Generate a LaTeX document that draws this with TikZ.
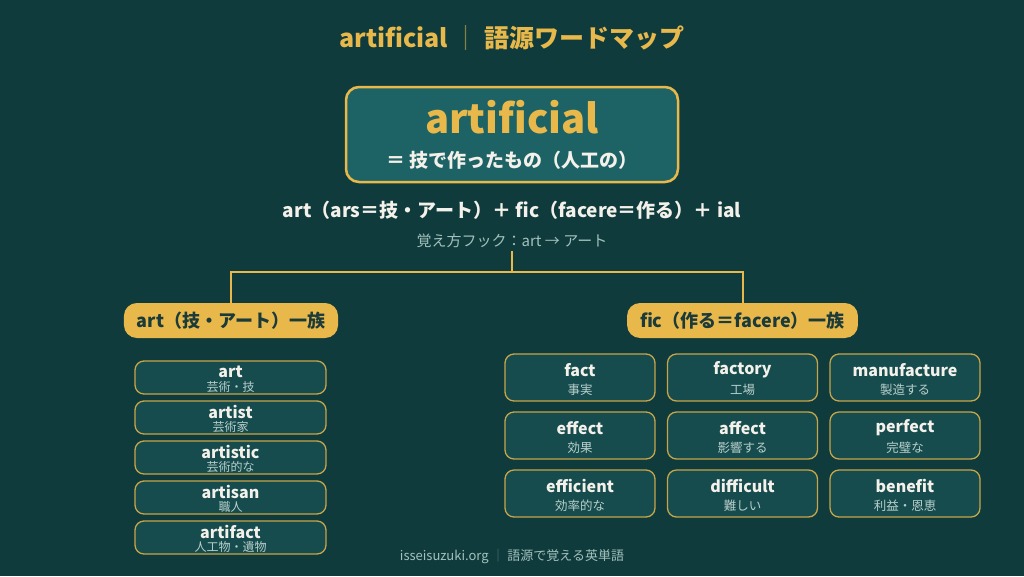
\documentclass[tikz,border=0pt]{standalone}
\usepackage{fontspec}
\setmainfont{Noto Sans CJK JP}
\definecolor{bg}{HTML}{0F3B3D}
\definecolor{gold}{HTML}{E8B84B}
\definecolor{mainfill}{HTML}{1D6365}
\definecolor{itemfill}{HTML}{164C4E}
\definecolor{pale}{HTML}{F3F1EA}
\definecolor{mute}{HTML}{B9CFCB}
\definecolor{hook}{HTML}{A3C1BD}
\definecolor{dark}{HTML}{1B3A3A}

\begin{document}
\begin{tikzpicture}
  [x=1pt,y=-1pt,
   box/.style={draw=gold!85!bg,line width=1.3pt,fill=itemfill,rounded corners=9pt},
   head/.style={fill=gold,rounded corners=13pt,minimum height=35pt,inner xsep=13pt,
     text=dark,font=\fontsize{18}{20}\selectfont\bfseries},
   word/.style={text=pale,font=\fontsize{16}{18}\selectfont\bfseries,inner sep=0pt},
   mean/.style={text=mute,font=\fontsize{12}{14}\selectfont,inner sep=0pt},
   conn/.style={draw=gold,line width=2pt}]
  \fill[bg] (0,0) rectangle (1024,576);

  \node[text=gold,font=\fontsize{25}{30}\selectfont\bfseries] (t) at (512,37.5)
    {artificial {\color{gold!55!bg}｜} 語源ワードマップ};

  \node[draw=gold,line width=2.5pt,fill=mainfill,rounded corners=13pt,
    minimum width=332pt,minimum height=95pt] (m) at (512,134.5) {};
  \node[text=gold,font=\fontsize{40}{44}\selectfont\bfseries] (mw) at (512,117) {artificial};
  \node[text=pale,font=\fontsize{19}{22}\selectfont\bfseries] (md) at (512,160) {＝ 技で作ったもの（人工の）};

  \node[text=pale,font=\fontsize{19}{22}\selectfont\bfseries] (f) at (512,210)
    {art（ars＝技・アート）＋ fic（facere＝作る）＋ ial};
  \node[text=hook,font=\fontsize{15}{17}\selectfont] (k) at (512,241) {覚え方フック：art → アート};

  \coordinate (j) at (512,272);
  \node[head] (la) at (231,320.5) {art（技・アート）一族};
  \node[head] (ra) at (742.5,320.5) {fic（作る＝facere）一族};
  \draw[conn] (k) -- (j);
  \draw[conn] (la) |- (j) -| (ra);

  \foreach \i/\w/\m [evaluate=\i as \y using 337.5+40*\i] in
    {1/art/芸術・技,2/artist/芸術家,3/artistic/芸術的な,4/artisan/職人,5/artifact/人工物・遺物}{
    \node[box,minimum width=191pt,minimum height=33pt] (l\i) at (230.5,\y) {};
    \node[word] (lw\i) at (230.5,{\y-6}) {\w};
    \node[mean] (lm\i) at (230.5,{\y+9.5}) {\m};
  }

  \foreach \r/\c/\w/\m in
    {1/1/fact/事実,1/2/factory/工場,1/3/manufacture/製造する,
     2/1/effect/効果,2/2/affect/影響する,2/3/perfect/完璧な,
     3/1/efficient/効率的な,3/2/difficult/難しい,3/3/benefit/利益・恩恵}{
    \node[box,minimum width=150pt,minimum height=47pt] (r\r\c) at ({417.5+162.5*\c},{319.5+58*\r}) {};
    \node[word] (rw\r\c) at ({417.5+162.5*\c},{312+58*\r}) {\w};
    \node[mean,font=\fontsize{12.5}{14}\selectfont] (rm\r\c) at ({417.5+162.5*\c},{332+58*\r}) {\m};
  }

  \node[text=hook,font=\fontsize{13}{15}\selectfont] (ft) at (512,556)
    {isseisuzuki.org {\color{hook!45!bg}｜} 語源で覚える英単語};
\end{tikzpicture}
\end{document}
